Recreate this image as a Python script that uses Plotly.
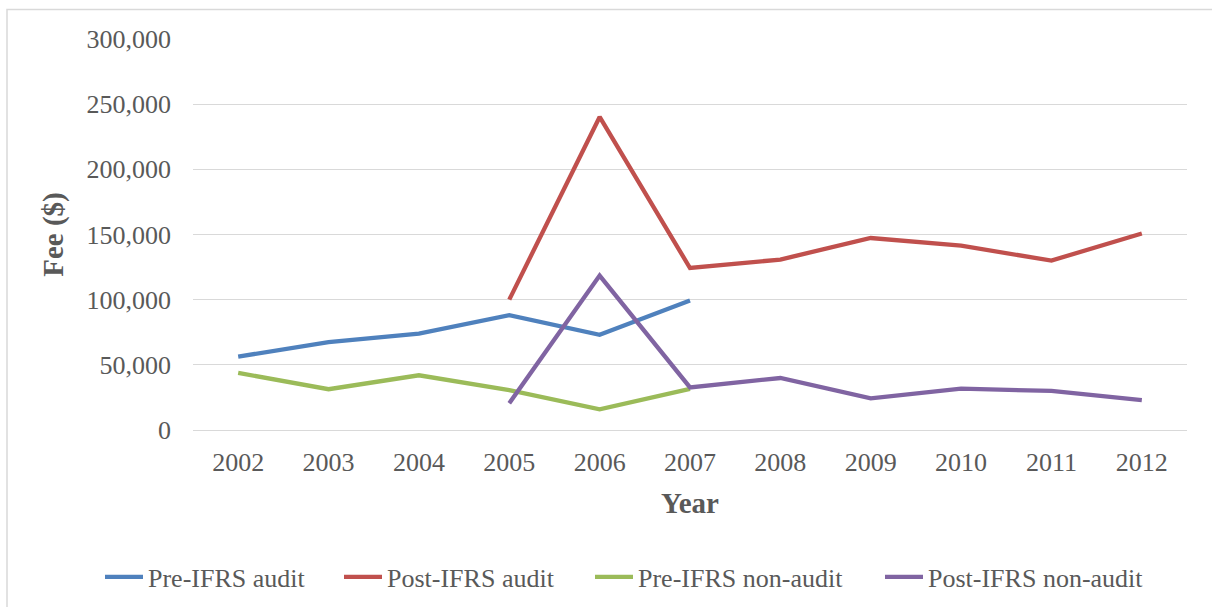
import plotly.graph_objects as go

years = ["2002", "2003", "2004", "2005", "2006", "2007", "2008", "2009", "2010", "2011", "2012"]

pre_audit_years = ["2002", "2003", "2004", "2005", "2006", "2007"]
pre_audit = [56300, 67400, 74000, 88100, 73000, 99300]

post_audit_years = ["2005", "2006", "2007", "2008", "2009", "2010", "2011", "2012"]
post_audit = [100000, 240200, 124300, 130800, 147300, 141400, 130000, 150800]

pre_nonaudit_years = ["2002", "2003", "2004", "2005", "2006", "2007"]
pre_nonaudit = [43800, 31300, 42000, 30600, 15900, 31500]

post_nonaudit_years = ["2005", "2006", "2007", "2008", "2009", "2010", "2011", "2012"]
post_nonaudit = [20500, 118500, 32700, 39900, 24300, 31700, 30000, 23000]

y_ticks = [0, 50000, 100000, 150000, 200000, 250000, 300000]
y_tick_labels = ["0", "50,000", "100,000", "150,000", "200,000", "250,000", "300,000"]

series = [
    ("Pre-IFRS audit", pre_audit_years, pre_audit, "#4F81BD", 186),
    ("Post-IFRS audit", post_audit_years, post_audit, "#C0504D", 198),
    ("Pre-IFRS non-audit", pre_nonaudit_years, pre_nonaudit, "#9BBB59", 237),
    ("Post-IFRS non-audit", post_nonaudit_years, post_nonaudit, "#8064A2", 222),
]

FONT = "Liberation Serif"
TXT = "#595959"

fig = go.Figure()
for name, xs, ys, color, lw in series:
    fig.add_trace(go.Scatter(
        x=xs, y=ys, name=name, mode="lines",
        line=dict(color=color, width=4.3),
        legendwidth=lw,
        hoverinfo="x+y+name",
    ))

L, R, T, B = 193, 25, 39, 177
W, H = 1212, 607
pw, ph = W - L - R, H - T - B

fig.update_layout(
    width=W, height=H,
    margin=dict(l=L, r=R, t=T, b=B, autoexpand=False),
    paper_bgcolor="white", plot_bgcolor="white",
    font=dict(family=FONT, color=TXT, size=26),
    showlegend=True,
    legend=dict(
        orientation="h",
        x=(100 - L) / pw, xanchor="left",
        y=-(577 - (T + ph)) / ph, yanchor="middle",
        font=dict(size=26, color=TXT, family=FONT),
        itemwidth=38,
        entrywidthmode="pixels",
        bgcolor="rgba(0,0,0,0)",
    ),
    xaxis=dict(
        type="category",
        categoryorder="array", categoryarray=years,
        range=[-0.5, len(years) - 0.5],
        showgrid=False, showline=False, zeroline=False,
        ticks="", ticklabelstandoff=14,
        tickfont=dict(size=26, color=TXT, family=FONT),
        title=dict(text="<b>Year</b>", font=dict(size=29, color=TXT, family=FONT), standoff=16),
        fixedrange=True,
    ),
    yaxis=dict(
        range=[0, 300000],
        tickmode="array", tickvals=y_ticks, ticktext=y_tick_labels,
        showgrid=True, gridcolor="#D9D9D9", gridwidth=1.3,
        zeroline=True, zerolinecolor="#D9D9D9", zerolinewidth=1.3,
        showline=False, ticks="", ticklabelstandoff=21,
        tickfont=dict(size=26, color=TXT, family=FONT),
        title=dict(text="<b>Fee ($)</b>", font=dict(size=29, color=TXT, family=FONT), standoff=14),
        fixedrange=True,
    ),
)

# outer chart frame (light gray), extending beyond the window right/bottom
fig.add_shape(
    type="rect", xref="paper", yref="paper",
    x0=(7 - L) / pw, x1=(W + 20 - L) / pw,
    y0=-(H + 20 - (T + ph)) / ph, y1=1 + (T - 9.5) / ph,
    line=dict(color="#D9D9D9", width=1.5), fillcolor="rgba(0,0,0,0)",
    layer="below",
)

fig.write_html(
    "out.html",
    config={"displayModeBar": False},
    post_script="document.body.style.margin='0';document.body.style.overflow='hidden';",
)
